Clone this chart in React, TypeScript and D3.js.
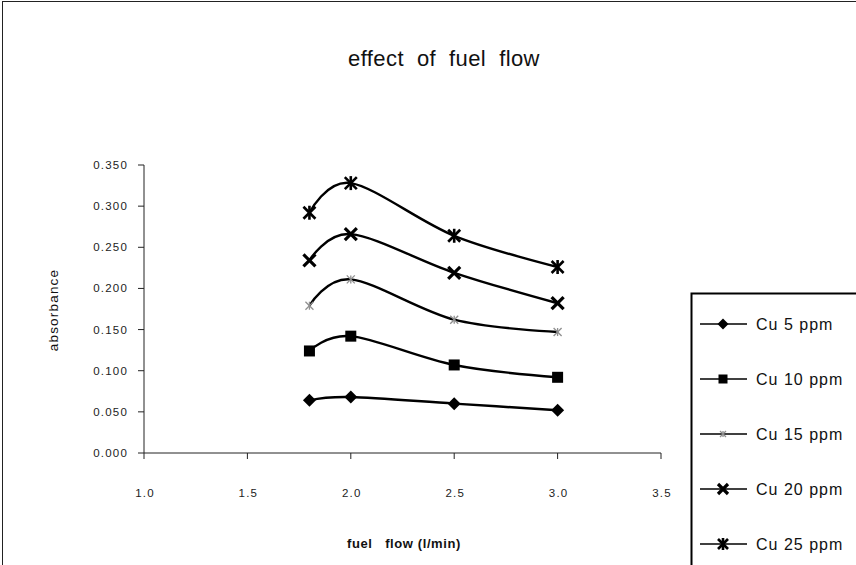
import React from "react";
import * as d3 from "d3";

const fuelFlow = [1.8, 2.0, 2.5, 3.0];
const cu5 = [0.064, 0.068, 0.060, 0.052];
const cu10 = [0.124, 0.142, 0.107, 0.092];
const cu15 = [0.179, 0.211, 0.162, 0.147];
const cu20 = [0.234, 0.266, 0.219, 0.182];
const cu25 = [0.292, 0.328, 0.264, 0.226];
const seriesNames = ["Cu 5 ppm", "Cu 10 ppm", "Cu 15 ppm", "Cu 20 ppm", "Cu 25 ppm"];
const seriesMarkers = ["diamond", "square", "star", "x", "asterisk"];
const xTicks = [1.0, 1.5, 2.0, 2.5, 3.0, 3.5];
const yTicks = [0, 0.05, 0.1, 0.15, 0.2, 0.25, 0.3, 0.35];

const W = 856;
const H = 565;
const FONT = "Arial, 'Liberation Sans', Helvetica, sans-serif";

const x = d3.scaleLinear().domain([1.0, 3.5]).range([144, 661]);
const y = d3.scaleLinear().domain([0, 0.35]).range([453, 165]);

function Marker({ type, cx, cy, legend }: { type: string; cx: number; cy: number; legend?: boolean }) {
  if (type === "diamond") {
    const r = legend ? 5.5 : 6.5;
    return (
      <path
        d={`M${cx},${cy - r}L${cx + r},${cy}L${cx},${cy + r}L${cx - r},${cy}Z`}
        fill="#000"
      />
    );
  }
  if (type === "square") {
    const s = legend ? 9 : 11;
    return <rect x={cx - s / 2} y={cy - s / 2} width={s} height={s} fill="#000" />;
  }
  if (type === "star") {
    const r = legend ? 3 : 4;
    return (
      <g stroke="#8f8f8f" strokeWidth={1.3}>
        <line x1={cx - r} y1={cy - r} x2={cx + r} y2={cy + r} />
        <line x1={cx - r} y1={cy + r} x2={cx + r} y2={cy - r} />
        <line x1={cx} y1={cy - r} x2={cx} y2={cy + r} />
      </g>
    );
  }
  if (type === "x") {
    const r = legend ? 5 : 6;
    return (
      <g stroke="#000" strokeWidth={3.2}>
        <line x1={cx - r} y1={cy - r} x2={cx + r} y2={cy + r} />
        <line x1={cx - r} y1={cy + r} x2={cx + r} y2={cy - r} />
      </g>
    );
  }
  const r = legend ? 5 : 6;
  return (
    <g stroke="#000" strokeWidth={2.6}>
      <line x1={cx - r} y1={cy - r} x2={cx + r} y2={cy + r} />
      <line x1={cx - r} y1={cy + r} x2={cx + r} y2={cy - r} />
      <line x1={cx} y1={cy - r - 1} x2={cx} y2={cy + r + 1} />
    </g>
  );
}

export default function App() {
  const series = [cu5, cu10, cu15, cu20, cu25];
  const line = d3
    .line<number>()
    .x((_, i) => x(fuelFlow[i]))
    .y((d) => y(d))
    .curve(d3.curveCardinal.tension(0));

  return (
    <svg
      width={W}
      height={H}
      style={{ position: "absolute", left: 0, top: 0, background: "#fff" }}
      fontFamily={FONT}
    >
      <rect x={0} y={0} width={W} height={H} fill="#fff" />
      {/* outer chart frame (cut off at right/bottom) */}
      <rect x={2.5} y={1.5} width={W + 20} height={H + 20} fill="none" stroke="#222" strokeWidth={1} />

      {/* title */}
      <text
        x={444}
        y={66}
        textAnchor="middle"
        fontSize={22}
        letterSpacing={0.4}
        style={{ whiteSpace: "pre" }}
        fill="#111"
      >
        {"effect  of  fuel  flow"}
      </text>

      {/* y axis */}
      <line x1={x(1.0)} y1={y(0.35)} x2={x(1.0)} y2={y(0)} stroke="#222" strokeWidth={1} />
      {yTicks.map((t) => (
        <g key={t}>
          <line x1={x(1.0) - 6} x2={x(1.0)} y1={y(t)} y2={y(t)} stroke="#222" strokeWidth={1} />
          <text x={128} y={y(t) + 4} textAnchor="end" fontSize={11.5} letterSpacing={1.2} fill="#222">
            {d3.format(".3f")(t)}
          </text>
        </g>
      ))}
      <text
        transform={`translate(58,310) rotate(-90)`}
        textAnchor="middle"
        fontSize={13.5}
        letterSpacing={1.2}
        fill="#111"
      >
        absorbance
      </text>

      {/* x axis */}
      <line x1={x(1.0)} y1={y(0)} x2={x(3.5)} y2={y(0)} stroke="#222" strokeWidth={1} />
      {xTicks.map((t) => (
        <g key={t}>
          <line x1={x(t)} x2={x(t)} y1={y(0)} y2={y(0) + 6} stroke="#222" strokeWidth={1} />
          <text x={x(t) + 1} y={497} textAnchor="middle" fontSize={11.5} letterSpacing={1.2} fill="#222">
            {d3.format(".1f")(t)}
          </text>
        </g>
      ))}
      <text
        x={404}
        y={548}
        textAnchor="middle"
        fontSize={13}
        fontWeight="bold"
        letterSpacing={0.6}
        style={{ whiteSpace: "pre" }}
        fill="#111"
      >
        {"fuel   flow (l/min)"}
      </text>

      {/* series */}
      {series.map((vals, si) => (
        <g key={si}>
          <path d={line(vals) || ""} fill="none" stroke="#000" strokeWidth={2.4} />
          {vals.map((v, i) => (
            <Marker key={i} type={seriesMarkers[si]} cx={x(fuelFlow[i])} cy={y(v)} />
          ))}
        </g>
      ))}

      {/* legend */}
      <rect x={691.5} y={293.5} width={200} height={300} fill="#fff" stroke="#000" strokeWidth={2} />
      {seriesNames.map((name, i) => {
        const cy = 324 + i * 55;
        return (
          <g key={name}>
            <line x1={700} x2={747} y1={cy} y2={cy} stroke="#000" strokeWidth={1.5} />
            <Marker type={seriesMarkers[i]} cx={723} cy={cy} legend />
            <text x={756} y={cy + 6} fontSize={16} letterSpacing={1} fill="#111" style={{ whiteSpace: "pre" }}>
              {name}
            </text>
          </g>
        );
      })}
    </svg>
  );
}
